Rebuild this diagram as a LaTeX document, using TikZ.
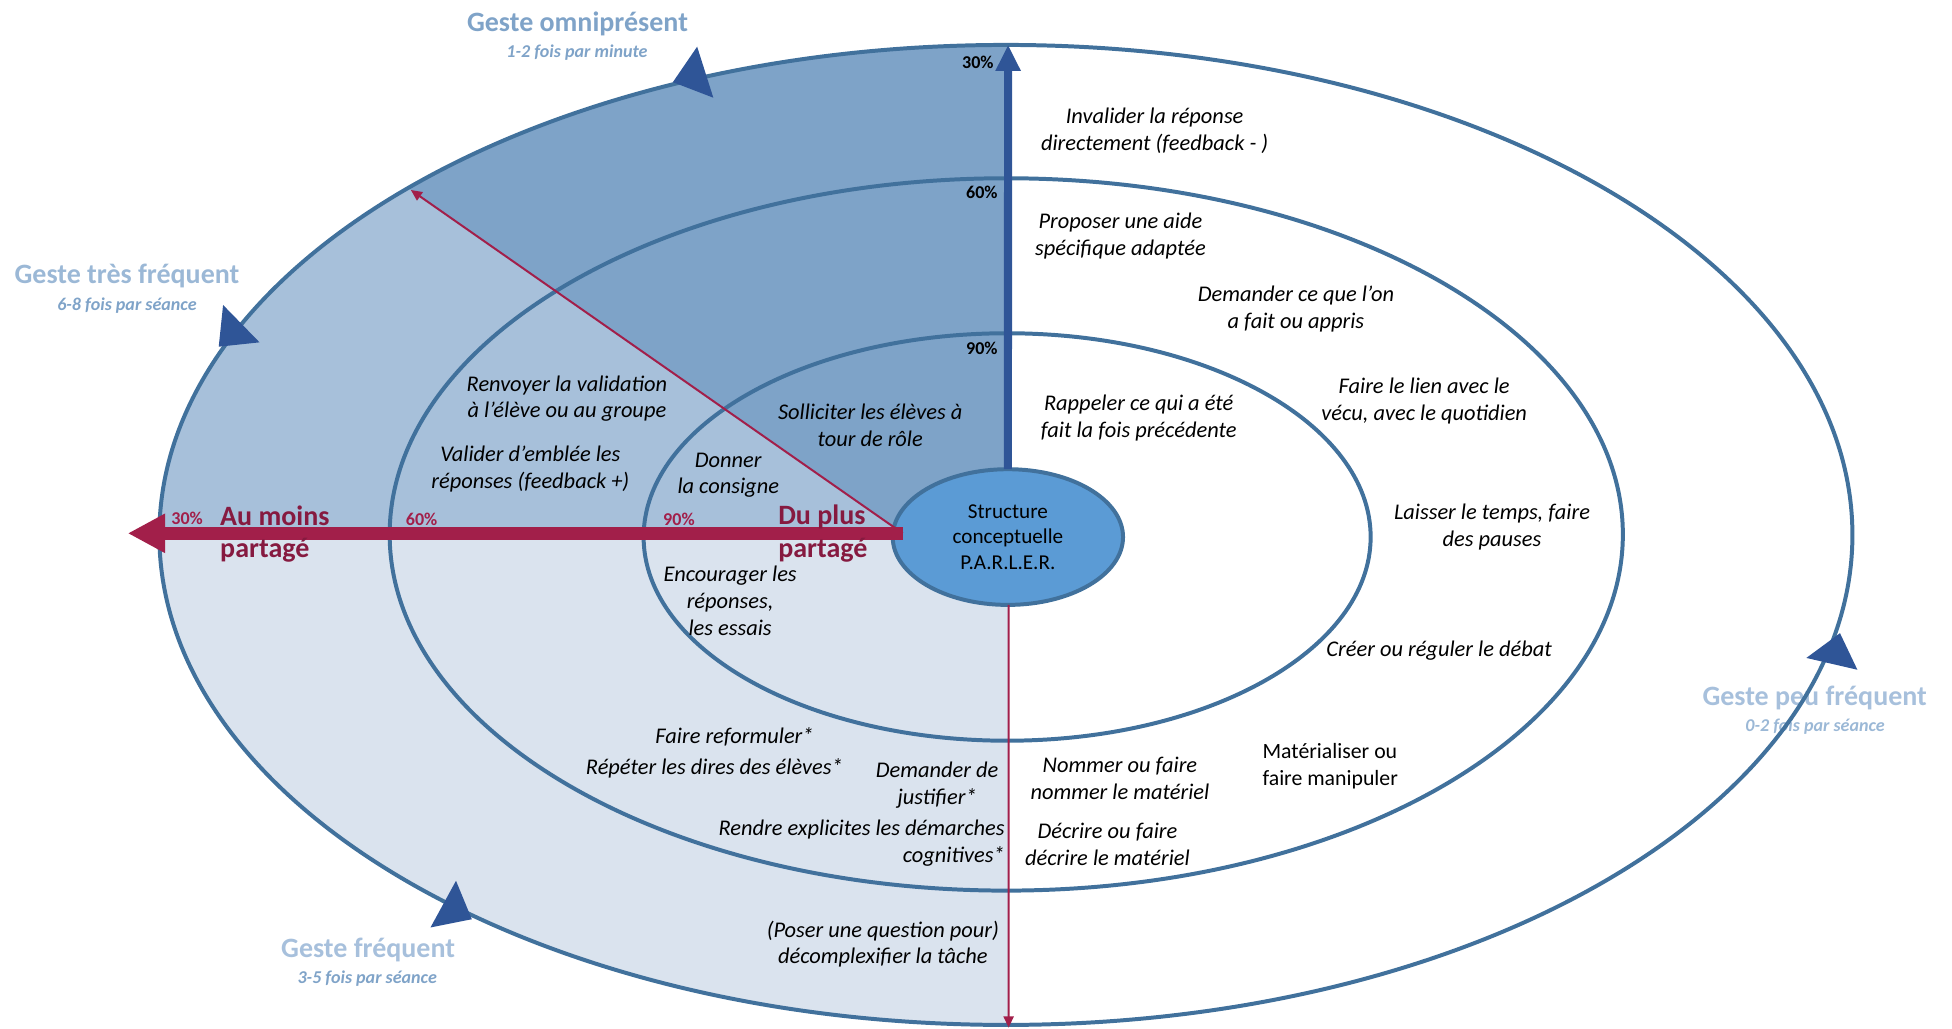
\documentclass[tikz,border=0pt]{standalone}
\usepackage{fontspec}
\setmainfont{Carlito}
\usetikzlibrary{arrows.meta,shapes.geometric}

\definecolor{ringc}{HTML}{41719C}
\definecolor{coref}{HTML}{5B9BD5}
\definecolor{darkf}{HTML}{7EA3C8}
\definecolor{medf}{HTML}{A7C0DA}
\definecolor{lightf}{HTML}{DAE3EE}
\definecolor{navy}{HTML}{2F5597}
\definecolor{crimson}{HTML}{A21F4A}
\definecolor{crimsontext}{HTML}{861A40}
\definecolor{headA}{HTML}{7FA3C8}
\definecolor{headB}{HTML}{9BB8D6}
\definecolor{headC}{HTML}{A7C0DC}

\newcommand\bodyfont{\fontsize{18}{21.5}\selectfont\itshape}
\newcommand\plainfont{\fontsize{17.5}{21.5}\selectfont}
\newcommand\headfont{\fontsize{22.5}{24}\selectfont\bfseries}
\newcommand\sharefont{\fontsize{22.5}{26}\selectfont\bfseries}
\newcommand\subfont{\fontsize{14.5}{16}\selectfont\bfseries\itshape}
\newcommand\pctfont{\fontsize{14.5}{16}\selectfont\bfseries}

\begin{document}
\begin{tikzpicture}[x=1pt,y=-1pt,
  ring/.style={draw=ringc, line width=3.2pt},
  body/.style={font=\bodyfont, align=center, inner sep=0pt, text=black},
  plain/.style={font=\plainfont, align=left, inner sep=0pt, text=black},
  head/.style={font=\headfont, inner sep=0pt, anchor=base},
  sub/.style={font=\subfont, inner sep=0pt, anchor=base},
  pct/.style={font=\pctfont, inner sep=0pt, anchor=base, text=black},
  redpct/.style={font=\pctfont, inner sep=0pt, anchor=base, text=crimson},
  share/.style={font=\sharefont, align=left, inner sep=0pt, anchor=west, text=crimsontext},
  marker/.style={fill=navy},
  core/.style={ellipse, draw=ringc, line width=3.2pt, fill=coref,
    minimum width=185pt, minimum height=109pt, inner sep=0pt, outer sep=0pt,
    align=center, font=\fontsize{17}{20.5}\selectfont},
  bluearrow/.style={draw=navy, line width=6.5pt, -{Triangle[width=19pt,length=21pt]}},
  redbar/.style={draw=crimson, line width=10.5pt, -{Triangle[width=29.5pt,length=30pt]}},
  redline/.style={draw=crimson, line width=1.6pt, -{Triangle[width=8pt,length=9pt]}}
]
\useasboundingbox (0,0) rectangle (1568,826);

% shaded sectors on the left half of the outer ring
\begin{scope}
  \clip (808,429.7) ellipse [x radius=680pt, y radius=393.6pt];
  \fill[lightf] (0,428) rectangle (809.8,830);
  \fill[medf] (0,-10) rectangle (809.8,428);
  \fill[darkf] (725,428) -- (97,-10) -- (809.8,-10) -- (809.8,428) -- cycle;
\end{scope}

% frequency labels
\node[head, text=headA] (hOmni) at (463.9,25.4) {Geste omniprésent};
\node[sub, text=headA] (sOmni) at (463.5,46) {1-2 fois par minute};
\node[head, text=headB] (hTres) at (102,228) {Geste très fréquent};
\node[sub, text=headA] (sTres) at (102,249.5) {6-8 fois par séance};
\node[head, text=headC] (hFreq) at (295.7,769.5) {Geste fréquent};
\node[sub, text=headA] (sFreq) at (295,790) {3-5 fois par séance};
\node[head, text=headC] (hPeu) at (1457.7,566.8) {Geste peu fréquent};
\node[sub, text=headB] (sPeu) at (1458,587.8) {0-2 fois par séance};

% the three rings
\draw[ring] (808,429.7) ellipse [x radius=680pt, y radius=393.6pt];
\draw[ring] (808.3,429.3) ellipse [x radius=495.3pt, y radius=286.1pt];
\draw[ring] (809,431.35) ellipse [x radius=292pt, y radius=163.65pt];

% direction markers on the outer ring
\fill[marker] (560,37.5) -- (540.5,66) -- (573,78.5) -- cycle;
\fill[marker] (179.2,245) -- (175.7,278.5) -- (208.5,275) -- cycle;
\fill[marker] (366.3,707.5) -- (345.8,745) -- (379,738.4) -- cycle;
\fill[marker] (1478,508.6) -- (1451,528.5) -- (1492,538) -- cycle;

% centre
\node[core] (core) at (809.6,431.4) {Structure\\conceptuelle\\P.A.R.L.E.R.};

% axes
\coordinate (topEnd) at (809.8,36);
\coordinate (leftEnd) at (102.6,428.4);
\coordinate (diagEnd) at (330,152.6);
\coordinate (bottomEnd) at (810.2,825.5);
\draw[bluearrow] (core.north) -- (topEnd);
\draw[redline] ([xshift=8pt,yshift=3pt]core.west) -- (diagEnd);
\draw[redbar] ([xshift=8pt,yshift=3pt]core.west) -- (leftEnd);
\draw[redline] ([xshift=0.6pt]core.south) -- (bottomEnd);

% percentages
\node[pct] (p30) at (785.5,54.9) {30\%};
\node[pct] (p60) at (788.7,159.3) {60\%};
\node[pct] (p90) at (788.7,285) {90\%};
\node[redpct] (r30) at (150.3,421.2) {30\%};
\node[redpct] (r60) at (338.7,422.5) {60\%};
\node[redpct] (r90) at (545.4,422.5) {90\%};

\node[share] (least) at (176.7,429) {Au moins\\partagé};
\node[share] (most) at (625,428.5) {Du plus\\partagé};

% teacher gestures
\node[body] (g1) at (927.5,105.3) {Invalider la réponse\\directement (feedback - )};
\node[body] (g2) at (900,189.5) {Proposer une aide\\spécifique adaptée};
\node[body] (g3) at (1041,248.4) {Demander ce que l’on\\a fait ou appris};
\node[body] (g4) at (1144,322.3) {Faire le lien avec le\\vécu, avec le quotidien};
\node[body] (g5) at (914.7,335.7) {Rappeler ce qui a été\\fait la fois précédente};
\node[body] (g6) at (1198.5,423.2) {Laisser le temps, faire\\des pauses};
\node[body, anchor=base] (g7) at (1156,527.5) {Créer ou réguler le débat};
\node[plain, anchor=west] (g8) at (1014,615.7) {Matérialiser ou\\faire manipuler};
\node[body] (g9) at (899.6,625) {Nommer ou faire\\nommer le matériel};
\node[body] (g10) at (889.6,678.5) {Décrire ou faire\\décrire le matériel};
\node[body] (g11) at (709.2,758.3) {(Poser une question pour)\\décomplexifier la tâche};
\node[body, anchor=base] (g12) at (590,597) {Faire reformuler*};
\node[body, anchor=base] (g13) at (573.8,622.5) {Répéter les dires des élèves*};
\node[body] (g14) at (752.8,630.7) {Demander de\\justifier*};
\node[body, align=right, anchor=east] (g15) at (807.2,677.3) {Rendre explicites les démarches\\cognitives*};
\node[body] (g16) at (586.5,482.4) {Encourager les\\réponses,\\les essais};
\node[body] (g17) at (585,381.8) {Donner\\la consigne};
\node[body] (g18) at (699,341.5) {Solliciter les élèves à\\tour de rôle};
\node[body] (g19) at (455.4,320.3) {Renvoyer la validation\\à l’élève ou au groupe};
\node[body] (g20) at (426,376.7) {Valider d’emblée les\\réponses (feedback +)};
\end{tikzpicture}
\end{document}
